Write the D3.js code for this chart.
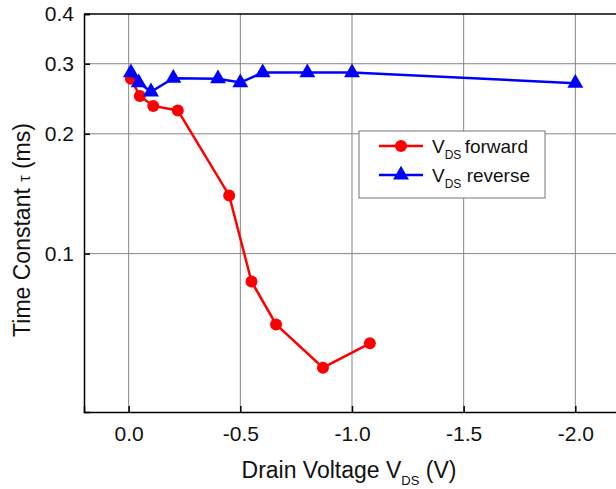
<!DOCTYPE html>
<html>
<head>
<meta charset="utf-8">
<script src="https://cdn.jsdelivr.net/npm/d3@7"></script>
<style>
  body { margin: 0; background: #fff; }
  svg { display: block; font-family: "Liberation Sans", Arial, sans-serif; }
</style>
</head>
<body>
<svg id="chart"></svg>
<script>
// V_DS forward sweep
const fwdX = [-0.01, -0.05, -0.11, -0.22, -0.45, -0.55, -0.66, -0.87, -1.08];
const fwdY = [0.275, 0.249, 0.235, 0.229, 0.140, 0.0851, 0.0664, 0.0517, 0.0595];
// V_DS reverse sweep
const revX = [-0.01, -0.045, -0.1, -0.2, -0.4, -0.5, -0.6, -0.8, -1.0, -2.0];
const revY = [0.285, 0.269, 0.255, 0.276, 0.275, 0.269, 0.285, 0.285, 0.285, 0.268];

const xTicks = [0, -0.5, -1.0, -1.5, -2.0];
const yTicks = [0.1, 0.2, 0.3, 0.4];

const width = 616, height = 489;
const margin = { top: 14, left: 84, bottom: 77, right: -4 };

const svg = d3.select('#chart')
    .attr('width', width)
    .attr('height', height);

const innerW = width - margin.left - margin.right;
const innerH = height - margin.top - margin.bottom;

const xScale = d3.scaleLinear()
    .domain([0.2, -2.2])
    .range([0, innerW]);

const yScale = d3.scaleLog()
    .domain([0.04, 0.4])
    .range([innerH, 0]);

const chart = svg.append('g')
    .attr('transform', `translate(${margin.left},${margin.top})`);

// grid lines
chart.append('g')
  .selectAll('line')
  .data(xTicks)
  .join('line')
    .attr('x1', d => xScale(d)).attr('x2', d => xScale(d))
    .attr('y1', 0).attr('y2', innerH)
    .attr('stroke', '#858585').attr('stroke-width', 1);

chart.append('g')
  .selectAll('line')
  .data(yTicks.slice(0, 3))
  .join('line')
    .attr('x1', 0).attr('x2', innerW)
    .attr('y1', d => yScale(d)).attr('y2', d => yScale(d))
    .attr('stroke', '#858585').attr('stroke-width', 1);

// axes
const xAxis = d3.axisBottom(xScale)
    .tickValues(xTicks)
    .tickSize(-6)
    .tickPadding(14)
    .tickFormat(d => d.toFixed(1));

const yAxis = d3.axisLeft(yScale)
    .tickValues(yTicks)
    .tickSize(-6)
    .tickPadding(10)
    .tickFormat(d => d.toFixed(1));

const xAxisG = chart.append('g')
    .attr('transform', `translate(0,${innerH})`)
    .call(xAxis);
const yAxisG = chart.append('g').call(yAxis);

[xAxisG, yAxisG].forEach(g => {
  g.select('.domain').attr('stroke', '#000').attr('stroke-width', 1.5);
  g.selectAll('.tick line').attr('stroke', '#000').attr('stroke-width', 1.5);
  g.selectAll('.tick text')
    .attr('fill', '#111')
    .style('font-size', '21px')
    .style('font-family', '"Liberation Sans", Arial, sans-serif');
});

// top frame line
chart.append('line')
    .attr('x1', 0).attr('x2', innerW)
    .attr('y1', 0).attr('y2', 0)
    .attr('stroke', '#000').attr('stroke-width', 1.5);

const line = d3.line()
    .x(d => xScale(d[0]))
    .y(d => yScale(d[1]));

const fwd = fwdX.map((x, i) => [x, fwdY[i]]);
const rev = revX.map((x, i) => [x, revY[i]]);

const tri = d3.symbol().type(d3.symbolTriangle).size(110);

// forward series
chart.append('path')
    .datum(fwd)
    .attr('d', line)
    .attr('fill', 'none')
    .attr('stroke', '#ff0000')
    .attr('stroke-width', 2.5);

chart.selectAll('.fwd-dot')
  .data(fwd)
  .join('circle')
    .attr('class', 'fwd-dot')
    .attr('cx', d => xScale(d[0]))
    .attr('cy', d => yScale(d[1]))
    .attr('r', 6)
    .attr('fill', '#ff0000');

// reverse series
chart.append('path')
    .datum(rev)
    .attr('d', line)
    .attr('fill', 'none')
    .attr('stroke', '#0000ff')
    .attr('stroke-width', 2.5);

chart.selectAll('.rev-tri')
  .data(rev)
  .join('path')
    .attr('class', 'rev-tri')
    .attr('d', tri)
    .attr('transform', d => `translate(${xScale(d[0])},${yScale(d[1])})`)
    .attr('fill', '#0000ff');

// legend
const legend = svg.append('g').attr('transform', 'translate(359,131)');
legend.append('rect')
    .attr('width', 186).attr('height', 67)
    .attr('fill', '#fff')
    .attr('stroke', '#777').attr('stroke-width', 1);

const legItems = [
  { label: 'forward', color: '#ff0000', shape: 'circle' },
  { label: 'reverse', color: '#0000ff', shape: 'triangle' }
];

legItems.forEach((item, i) => {
  const g = legend.append('g').attr('transform', `translate(0,${15 + i * 29})`);
  g.append('line')
      .attr('x1', 20).attr('x2', 64)
      .attr('stroke', item.color).attr('stroke-width', 2.5);
  if (item.shape === 'circle') {
    g.append('circle').attr('cx', 42).attr('r', 6).attr('fill', item.color);
  } else {
    g.append('path').attr('d', tri).attr('transform', 'translate(42,0)').attr('fill', item.color);
  }
  const t = g.append('text')
      .attr('x', 73).attr('y', 7)
      .style('font-size', '19px')
      .attr('fill', '#111');
  t.append('tspan').text('V');
  t.append('tspan').text('DS').style('font-size', '12px').attr('dy', 6);
  t.append('tspan').text(' ' + item.label).attr('dy', -6).attr('dx', i === 0 ? -2 : 0);
});

// axis titles
const xt = svg.append('text')
    .attr('x', 349)
    .attr('y', 478)
    .attr('text-anchor', 'middle')
    .style('font-size', '23px')
    .attr('fill', '#111');
xt.append('tspan').text('Drain Voltage V');
xt.append('tspan').text('DS').style('font-size', '13px').attr('dy', 7);
xt.append('tspan').text(' (V)').attr('dy', -7);

const yt = svg.append('text')
    .attr('transform', 'translate(30,230) rotate(-90)')
    .attr('text-anchor', 'middle')
    .style('font-size', '23px')
    .attr('fill', '#111');
yt.append('tspan').text('Time Constant ');
yt.append('tspan').text('τ').style('font-size', '16px');
yt.append('tspan').text(' (ms)');
</script>
</body>
</html>
